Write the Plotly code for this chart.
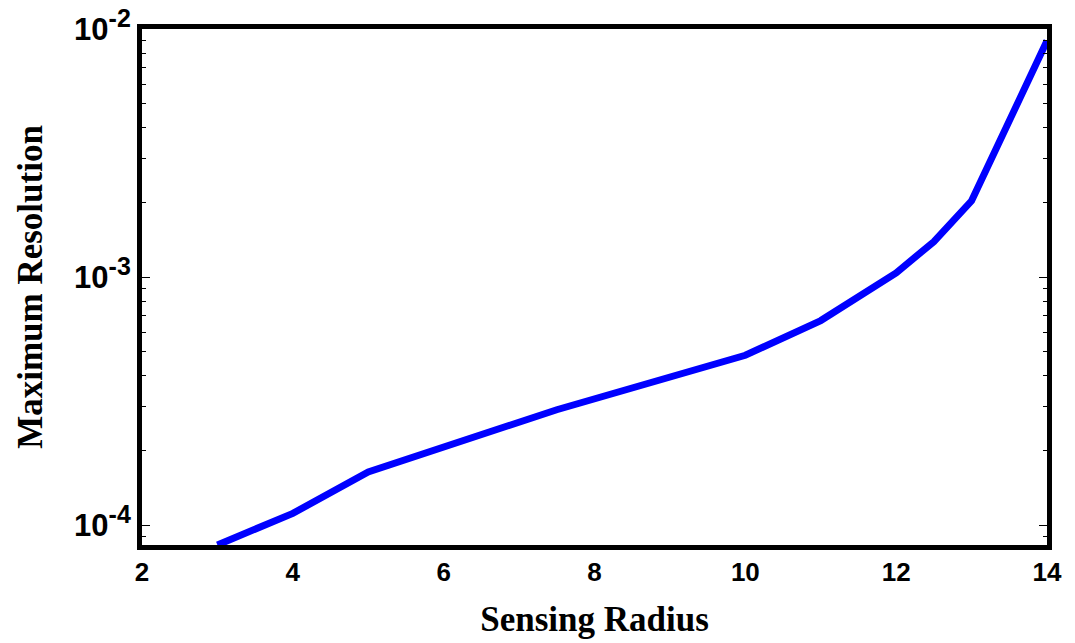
import numpy as np
import plotly.graph_objects as go

# Data
sensing_radius = [3, 4, 5, 7.5, 10, 11, 12, 12.5, 13, 14]
max_resolution = [8.32e-5, 1.116e-4, 1.64e-4, 2.92e-4, 4.84e-4, 6.68e-4, 1.04e-3, 1.39e-3, 2.03e-3, 8.96e-3]

x_ticks = [2, 4, 6, 8, 10, 12, 14]
y_major = [1e-4, 1e-3, 1e-2]
y_exponents = ["-4", "-3", "-2"]
y_major_text = ["10<sup><span style='font-size:25px'>%s</span></sup>" % e for e in y_exponents]
y_minor = [m * 10.0 ** e for e in (-5, -4, -3) for m in range(2, 10)]

fig = go.Figure()
fig.add_trace(go.Scatter(
    x=sensing_radius, y=max_resolution, mode="lines",
    line=dict(color="#0000FF", width=7),
    showlegend=False,
))

x_tick_font = dict(family="Liberation Sans, Arial", size=26, color="black", weight="bold")
y_tick_font = dict(family="Liberation Sans, Arial", size=31, color="black", weight="bold")
title_font = dict(family="Liberation Serif, Times New Roman", size=35, color="black")

fig.update_layout(
    width=1075, height=643,
    margin=dict(l=142, r=28, t=29, b=98, autoexpand=False),
    plot_bgcolor="white", paper_bgcolor="white",
)
fig.update_xaxes(
    range=[2, 14], tickvals=x_ticks, ticktext=[str(v) for v in x_ticks],
    showline=True, linewidth=5, linecolor="black", mirror=True,
    ticks="", showgrid=False, zeroline=False, automargin=False,
    tickfont=x_tick_font,
    title=dict(text="<b>Sensing Radius</b>", font=title_font, standoff=22),
)
fig.update_yaxes(
    type="log", range=[np.log10(8.32e-5), -2],
    tickvals=y_major, ticktext=y_major_text,
    showline=True, linewidth=5, linecolor="black", mirror="allticks",
    ticks="inside", ticklen=8, tickwidth=1, tickcolor="black",
    minor=dict(tickvals=y_minor, ticks="inside", ticklen=4, tickwidth=1, tickcolor="black", showgrid=False),
    showgrid=False, zeroline=False, automargin=False,
    tickfont=y_tick_font,
    title=dict(text="<b>Maximum Resolution</b>", font=title_font, standoff=22),
)

fig.write_html("out.html")
